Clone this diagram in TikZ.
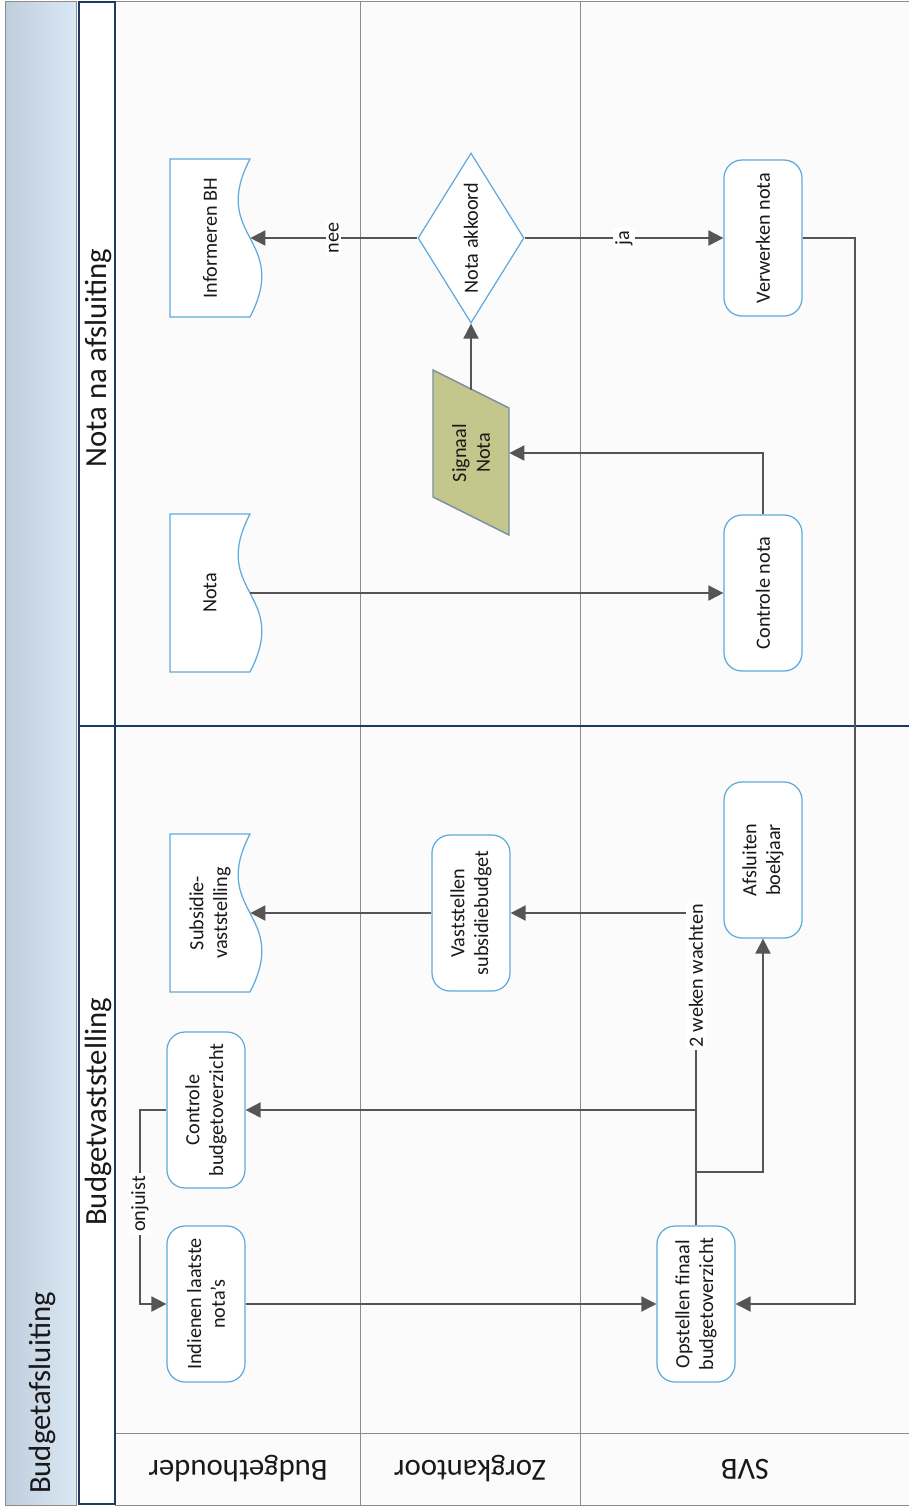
\documentclass[tikz,border=0pt]{standalone}
\usepackage{fontspec}
\setmainfont{Carlito}
\usetikzlibrary{shapes.geometric,arrows.meta}

\definecolor{navy}{RGB}{28,58,100}
\definecolor{boxblue}{RGB}{95,170,220}
\definecolor{linegray}{RGB}{85,85,85}
\definecolor{lanegray}{RGB}{140,140,140}
\definecolor{khaki}{RGB}{197,198,140}
\definecolor{khakiline}{RGB}{120,145,160}
\definecolor{titleblue}{RGB}{218,231,244}
\definecolor{titlegray}{RGB}{192,205,220}

\begin{document}
\begin{tikzpicture}[x=0.2mm, y=-0.2mm,
        every node/.style={font=\fontsize{11.5}{13.5}\selectfont, text=black!90},
        task/.style={draw=boxblue, fill=white, line width=0.7pt, rounded corners=3.6mm,
            rotate=90, minimum width=31.2mm, minimum height=15.6mm, align=center, inner sep=2pt},
        docu/.style={rotate=90, minimum width=31.6mm, minimum height=16mm, align=center, inner sep=0pt},
        docline/.style={draw=boxblue, fill=white, line width=0.7pt},
        choice/.style={diamond, aspect=1.6, draw=boxblue, fill=white, line width=0.7pt, rotate=90,
            minimum width=34mm, minimum height=21.2mm, inner sep=0pt},
        flow/.style={->, draw=linegray, line width=1.1pt, >={Triangle[length=3mm,width=3mm]}},
        lbl/.style={fill=white, rotate=90, inner sep=1.5pt},
        big/.style={font=\fontsize{17.5}{20}\selectfont},
        lane/.style={draw=lanegray, line width=0.5pt, fill=gray!3}]

    \useasboundingbox (0,0) rectangle (909,1508);

    \draw [lane] (115,1) rectangle (360,1505);
    \draw [lane] (360,1) rectangle (580,1505);
    \draw [lane] (580,1) rectangle (909,1505);
    \draw [lanegray, line width=0.5pt] (115,1433) -- (909,1433);

    \draw [lanegray, line width=0.5pt, left color=titlegray, right color=titleblue] (5,1) rectangle (76,1505);
    \draw [navy, line width=1.6pt, fill=white] (79,2) rectangle (115,1504);
    \draw [navy, line width=1.6pt] (79,726) -- (909,726);

    \node [big, rotate=90] (title) at (42,1393) {Budgetafsluiting};
    \node [big, rotate=90] (fase1) at (98,1112) {Budgetvaststelling};
    \node [big, rotate=90] (fase2) at (98,358) {Nota na afsluiting};

    \node [big, rotate=180] (bh) at (238,1469) {Budgethouder};
    \node [big, rotate=180] (zk) at (470,1469) {Zorgkantoor};
    \node [big, rotate=180] (svb) at (745,1469) {SVB};

    \foreach \nm/\cx/\cy/\txt in {informeren/210/238/{Informeren BH}, nota/210/593/Nota, subsidie/210/913/{Subsidie-\\vaststelling}}{%
        \draw [docline] (\cx+40,\cy-79) -- (\cx-40,\cy-79) -- (\cx-40,\cy+79) -- (\cx+40,\cy+79)
            .. controls (\cx+81,\cy) and (\cx-1,\cy) .. cycle;
        \node [docu] (\nm) at (\cx,\cy) {\txt};
    }

    \node [choice] (akkoord) at (471,238) {Nota akkoord};
    \draw [fill=khaki, draw=khakiline, line width=0.8pt] (433,370) -- (509,408) -- (509,535) -- (433,497) -- cycle;
    \node [rotate=90, minimum width=25.2mm, minimum height=15.2mm, align=center, inner sep=0pt] (signaal) at (471,453) {Signaal\\Nota};
    \node [task] (verwerken) at (763,238) {Verwerken nota};
    \node [task] (ctrlnota) at (763,593) {Controle nota};
    \node [task] (afsluiten) at (763,860) {Afsluiten\\boekjaar};
    \node [task] (opstellen) at (696,1304) {Opstellen finaal\\budgetoverzicht};
    \node [task] (vaststellen) at (471,913) {Vaststellen\\subsidiebudget};
    \node [task] (ctrlbudget) at (206,1110) {Controle\\budgetoverzicht};
    \node [task] (indienen) at (206,1304) {Indienen laatste\\nota’s};

    \coordinate (svbrail) at (855,1304);
    \coordinate (split1) at (696,1110);
    \coordinate (split2) at (696,1172);
    \coordinate (onjuistbend) at (140,1204);

    \draw [flow] (akkoord) -- node [lbl] {nee} (informeren);
    \draw [flow] (akkoord) -- node [lbl] {ja} (verwerken);
    \draw [flow] (nota) -- (ctrlnota);
    \draw [flow] (ctrlnota) |- (signaal);
    \draw [flow] (signaal) -- (akkoord);
    \draw [flow] (verwerken) -| (svbrail) -- (opstellen);
    \draw [flow] (indienen) -- (opstellen);
    \draw [flow] (opstellen) |- node [lbl, pos=0.4] {2 weken wachten} (vaststellen);
    \draw [flow] (vaststellen) -- (subsidie);
    \draw [flow] (split1) -- (ctrlbudget);
    \draw [flow] (split2) -| (afsluiten);
    \draw [flow] (ctrlbudget) -| (onjuistbend) node [lbl] {onjuist} |- (indienen);
\end{tikzpicture}
\end{document}
